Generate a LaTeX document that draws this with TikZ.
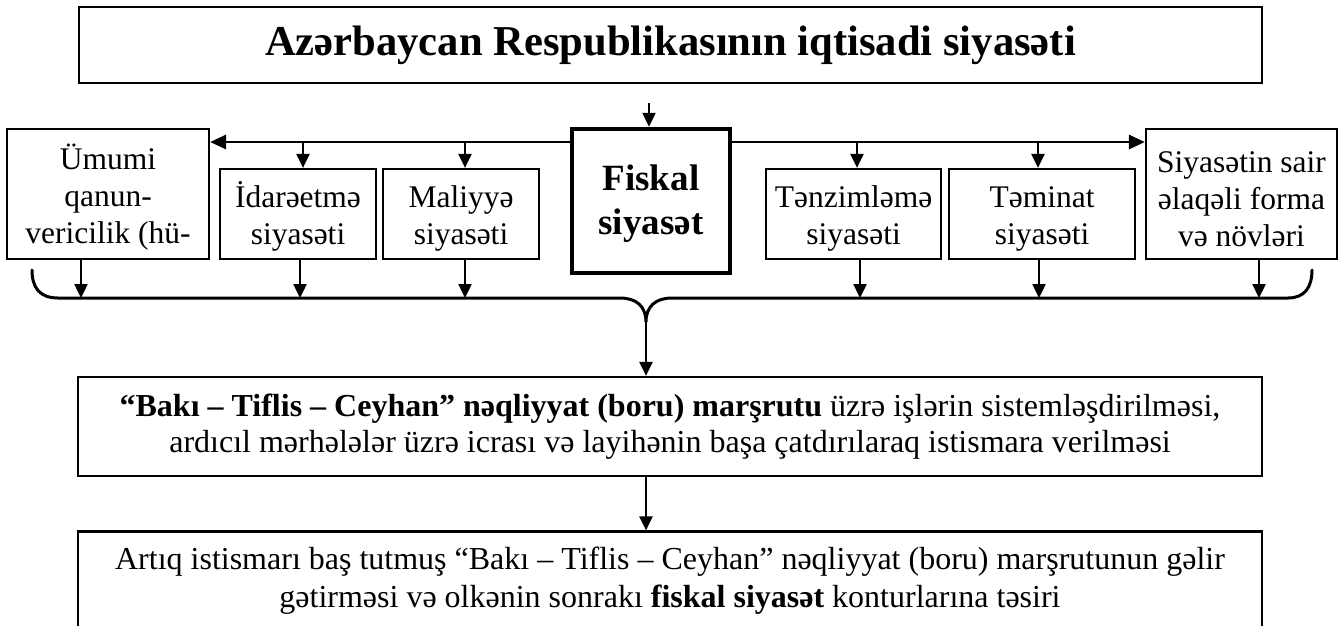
\documentclass[tikz,border=0pt]{standalone}
\usepackage{fontspec}
\setmainfont{Liberation Serif}
\usetikzlibrary{arrows.meta,calc}
\newcommand\mystrutA{\rule{0pt}{31.5pt}}
\newcommand\mystrutB{\rule{0pt}{30pt}}
\begin{document}
\begin{tikzpicture}[x=1pt,y=-1pt,
  box/.style={draw, line width=2.2pt, inner sep=0pt, align=center, font=\fontsize{31.5}{37}\selectfont},
  arr/.style={line width=2.4pt, -{Triangle[length=14pt,width=13pt]}},
  mainarr/.style={line width=2.9pt, -{Triangle[length=16pt,width=14pt]}},
  bracepath/.style={line width=3pt, line cap=round},
]
\useasboundingbox (0,0) rectangle (1344,625);
% boxes
\node[box, minimum width=1183pt, minimum height=76pt, font=\bfseries\fontsize{42.6}{48}\selectfont] (top) at (670.5,45) {Azərbaycan Respublikasının iqtisadi siyasəti};
\node[box, line width=4.5pt, minimum width=158pt, minimum height=144pt, font=\bfseries\fontsize{37}{44}\selectfont] (fiscal) at (651,201) {\mystrutB Fiskal\\siyasət};
\node[box, minimum width=202pt, minimum height=130pt] (umumi) at (108,194) {\mystrutA Ümumi\\qanun-\\vericilik (hü-};
\node[box, minimum width=156pt, minimum height=90pt] (idare) at (298,214) {\mystrutA İdarəetmə\\siyasəti};
\node[box, minimum width=156pt, minimum height=90pt] (maliyye) at (461,214) {\mystrutA Maliyyə\\siyasəti};
\node[box, minimum width=175pt, minimum height=90pt] (tenzim) at (853.5,214) {\mystrutA Tənzimləmə\\siyasəti};
\node[box, minimum width=186pt, minimum height=90pt] (teminat) at (1042,214) {\mystrutA Təminat\\siyasəti};
\node[box, minimum width=191pt, minimum height=130pt] (siyasetin) at (1241.5,194) {\mystrutA Siyasətin sair\\əlaqəli forma\\və növləri};
\node[box, minimum width=1184pt, minimum height=99pt, font=\fontsize{32}{36}\selectfont] (baki) at (670,426.5) {\textbf{“Bakı – Tiflis – Ceyhan” nəqliyyat (boru) marşrutu} üzrə işlərin sistemləşdirilməsi,\\ardıcıl mərhələlər üzrə icrası və layihənin başa çatdırılaraq istismara verilməsi};
\node[box, minimum width=1184pt, minimum height=99pt, font=\fontsize{32}{38}\selectfont] (last) at (670,581) {Artıq istismarı baş tutmuş “Bakı – Tiflis – Ceyhan” nəqliyyat (boru) marşrutunun gəlir\\gətirməsi və olkənin sonrakı \textbf{fiskal siyasət} konturlarına təsiri};
% helper coordinates
\coordinate (hl) at (0,142);
\coordinate (bl) at (0,298);
\coordinate (a1) at ([xshift=-2pt]fiscal.north);
\coordinate (tip) at (646,322);
% top arrow
\draw[arr, shorten <=19pt] (a1 |- top.south) -- (a1);
% main horizontal
\draw[mainarr] (fiscal.west |- hl) -- (umumi.east |- hl);
\draw[mainarr] (fiscal.east |- hl) -- (siyasetin.west |- hl);
% branches down to boxes
\coordinate (i1) at ([xshift=5pt]idare.north);
\coordinate (m1) at ([xshift=4pt]maliyye.north);
\coordinate (t1) at ([xshift=3.5pt]tenzim.north);
\coordinate (e1) at ([xshift=-4pt]teminat.north);
\foreach \c in {i1,m1,t1,e1} \draw[arr] (\c |- hl) -- (\c);
% arrows down to brace
\coordinate (u2) at ([xshift=-27pt]umumi.south);
\coordinate (i2) at ([xshift=2pt]idare.south);
\coordinate (m2) at ([xshift=4pt]maliyye.south);
\coordinate (t2) at ([xshift=6.5pt]tenzim.south);
\coordinate (e2) at ([xshift=-3pt]teminat.south);
\coordinate (s2) at ([xshift=17.5pt]siyasetin.south);
\foreach \c in {u2,i2,m2,t2,e2,s2} \draw[arr] (\c) -- (\c |- bl);
% brace
\draw[bracepath] (32,270) .. controls (32,288) and (40,298) .. (58,298) -- (620,298)
  .. controls (636,298) and (646,306) .. (tip)
  .. controls (646,306) and (656,298) .. (672,298) -- (1288,298)
  .. controls (1304,298) and (1312,288) .. (1312,270);
% lower arrows
\draw[arr] (tip) -- (tip |- baki.north);
\draw[arr] (tip |- baki.south) -- (tip |- last.north);
\end{tikzpicture}
\end{document}
